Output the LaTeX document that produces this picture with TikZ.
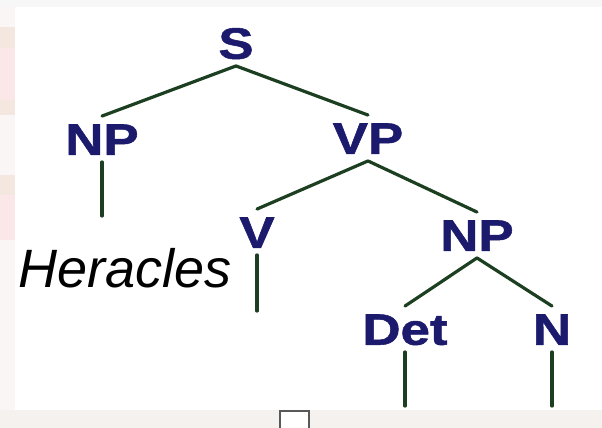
\documentclass[tikz,border=0pt]{standalone}
\usepackage{fontspec}
\newfontfamily\treefont[FakeStretch=1.2, FakeBold=1.2]{Liberation Sans}
\newfontfamily\leaffont{Liberation Sans}
\definecolor{cat}{HTML}{1C1A6C}
\definecolor{branch}{HTML}{1B3F20}
\definecolor{page}{HTML}{F5F1EF}
\definecolor{stpink}{HTML}{FBE6E8}
\definecolor{stbeige}{HTML}{F3E7E0}
\definecolor{stpale}{HTML}{F9F6F5}
\tikzset{lab/.style={cat, font=\treefont\bfseries\fontsize{44}{44}\selectfont, text height=31.5pt, text depth=0pt, inner xsep=2pt, inner ysep=7pt},
  br/.style={branch, line width=3.2pt, line cap=round}}

\begin{document}
\begin{tikzpicture}[x=1pt, y=-1pt]
  \useasboundingbox (0,0) rectangle (602,428);
  \fill[page] (0,0) rectangle (602,428);
  \fill[white!97!black] (0,0) rectangle (602,7);
  \foreach \ya/\yb/\tint in {7/27/stpale, 27/48/stbeige, 48/100/stpink, 100/115/stbeige, 115/140/stpale, 140/175/stpale, 175/195/stbeige, 195/240/stpink, 240/410/stpale}{
     \fill[\tint] (0,\ya) rectangle (15,\yb);}
  \fill[white] (15,7) rectangle (602,410);
  \node[lab] (s) at (236,43) {S};
  \node[lab] (np1) at (102,139) {NP};
  \node[lab] (vp) at (368,138) {VP};
  \node[lab] (v) at (257,232) {V};
  \node[lab] (np2) at (477,235) {NP};
  \node[lab] (det) at (405,329) {Det};
  \node[lab] (n) at (552,329) {N};
  \node[font=\leaffont\itshape\fontsize{54}{54}\selectfont, anchor=base west, inner sep=0pt] (her) at (18,287) {Heracles};
  \coordinate (np1end) at (102,216);
  \coordinate (vend) at (257,311);
  \coordinate (detend) at (405,406);
  \coordinate (nend) at (552,406);
  \draw[br] (s.south) -- (np1.north);
  \draw[br] (s.south) -- (vp.north);
  \draw[br] (vp.south) -- (v.north);
  \draw[br] (vp.south) -- (np2.north);
  \draw[br] (np2.south) -- (det.north);
  \draw[br] (np2.south) -- (n.north);
  \foreach \a/\b in {np1/np1end, v/vend, det/detend, n/nend}
     \draw[br] (\a.south) -- (\b);
  \draw[draw=black!65, line width=1.5pt, fill=white] (280,429) |- (309,411) -- (309,429);
\end{tikzpicture}
\end{document}
